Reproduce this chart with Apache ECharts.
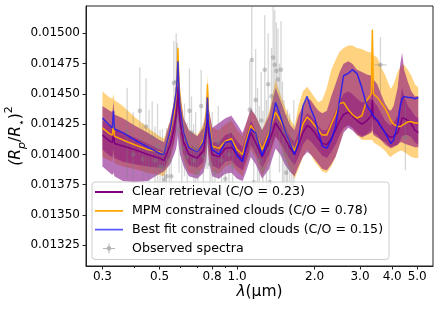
<!DOCTYPE html>
<html><head><meta charset="utf-8">
<script src="https://cdn.jsdelivr.net/npm/echarts@6/dist/echarts.min.js"></script>
<style>html,body{margin:0;padding:0;background:#fff}#c{width:440px;height:312px}</style>
</head><body><div id="c"></div>
<script>
// wavelength grid (micron) shared by the model curves
const wl = [0.30,0.32,0.328,0.331,0.334,0.36,0.40,0.45,0.50,0.52,
 0.55,0.57,0.58,0.585,0.589,0.593,0.60,0.62,0.65,0.70,
 0.74,0.76,0.767,0.775,0.80,0.85,0.90,0.95,1.00,1.05,
 1.08,1.13,1.18,1.25,1.33,1.41,1.47,1.53,1.60,1.67,
 1.73,1.80,1.87,1.93,2.00,2.07,2.14,2.23,2.32,2.41,
 2.50,2.59,2.70,2.80,2.92,3.05,3.19,3.32,3.35,3.38,
 3.50,3.62,3.75,3.88,3.95,4.05,4.20,4.30,4.37,4.45,
 4.60,4.75,4.90,5.05];

const blueLine = [0.01430,0.01424,0.01422,0.01436,0.01421,0.01418,0.01412,0.01406,0.01401,0.01400,
 0.01420,0.01440,0.01452,0.01462,0.01477,0.01460,0.01440,0.01418,0.01406,0.01402,
 0.01410,0.01425,0.01447,0.01425,0.01404,0.01400,0.01410,0.01411,0.01399,0.01394,
 0.01407,0.01421,0.01418,0.01399,0.01415,0.01443,0.01432,0.01420,0.01410,0.01400,
 0.01410,0.01440,0.01448,0.01438,0.01430,0.01418,0.01407,0.01405,0.01412,0.01423,
 0.01445,0.01465,0.01467,0.01470,0.01467,0.01455,0.01440,0.01435,0.01433,0.01432,
 0.01428,0.01423,0.01418,0.01412,0.01409,0.01412,0.01425,0.01440,0.01446,0.01448,
 0.01447,0.01447,0.01446,0.01447];

const orangeLine = [0.01422,0.01417,0.01416,0.01428,0.01415,0.01412,0.01408,0.01404,0.01402,0.01400,
 0.01418,0.01435,0.01450,0.01465,0.01488,0.01466,0.01445,0.01418,0.01407,0.01402,
 0.01412,0.01430,0.01458,0.01430,0.01407,0.01405,0.01411,0.01413,0.01404,0.01400,
 0.01410,0.01424,0.01418,0.01404,0.01418,0.01435,0.01428,0.01420,0.01410,0.01403,
 0.01412,0.01425,0.01431,0.01428,0.01424,0.01420,0.01416,0.01416,0.01425,0.01433,
 0.01442,0.01443,0.01437,0.01433,0.01430,0.01432,0.01445,0.01450,0.01503,0.01450,
 0.01447,0.01443,0.01438,0.01432,0.01428,0.01425,0.01423,0.01423,0.01424,0.01425,
 0.01427,0.01427,0.01426,0.01426];

const purpleLine = [0.01416,0.01411,0.01410,0.01422,0.01409,0.01407,0.01404,0.01400,0.01397,0.01395,
 0.01408,0.01422,0.01432,0.01442,0.01456,0.01440,0.01428,0.01410,0.01400,0.01397,
 0.01403,0.01418,0.01440,0.01418,0.01400,0.01398,0.01405,0.01406,0.01400,0.01396,
 0.01404,0.01418,0.01410,0.01398,0.01410,0.01426,0.01420,0.01414,0.01406,0.01400,
 0.01408,0.01418,0.01424,0.01422,0.01418,0.01413,0.01409,0.01408,0.01413,0.01420,
 0.01428,0.01433,0.01435,0.01432,0.01428,0.01425,0.01428,0.01432,0.01445,0.01430,
 0.01428,0.01423,0.01418,0.01415,0.01414,0.01415,0.01418,0.01424,0.01430,0.01430,
 0.01428,0.01425,0.01420,0.01418];

const orangeHi = [0.01452,0.01447,0.01446,0.01450,0.01445,0.01440,0.01431,0.01422,0.01415,0.01413,
 0.01428,0.01445,0.01460,0.01477,0.01494,0.01477,0.01455,0.01430,0.01420,0.01416,
 0.01425,0.01442,0.01466,0.01440,0.01422,0.01420,0.01425,0.01428,0.01420,0.01415,
 0.01424,0.01437,0.01432,0.01420,0.01435,0.01462,0.01450,0.01440,0.01430,0.01423,
 0.01440,0.01452,0.01456,0.01452,0.01447,0.01443,0.01445,0.01455,0.01470,0.01478,
 0.01485,0.01488,0.01490,0.01490,0.01488,0.01487,0.01485,0.01484,0.01503,0.01482,
 0.01480,0.01472,0.01466,0.01458,0.01454,0.01458,0.01468,0.01472,0.01474,0.01474,
 0.01470,0.01465,0.01458,0.01455];

const orangeLo = [0.01398,0.01395,0.01394,0.01400,0.01393,0.01390,0.01388,0.01385,0.01383,0.01382,
 0.01395,0.01410,0.01420,0.01428,0.01440,0.01428,0.01412,0.01395,0.01385,0.01383,
 0.01390,0.01402,0.01420,0.01400,0.01386,0.01384,0.01390,0.01392,0.01386,0.01382,
 0.01390,0.01404,0.01398,0.01382,0.01395,0.01415,0.01408,0.01398,0.01388,0.01380,
 0.01388,0.01398,0.01404,0.01400,0.01394,0.01390,0.01386,0.01385,0.01390,0.01398,
 0.01408,0.01420,0.01425,0.01422,0.01416,0.01412,0.01412,0.01412,0.01412,0.01410,
 0.01408,0.01406,0.01403,0.01399,0.01398,0.01400,0.01402,0.01403,0.01403,0.01402,
 0.01400,0.01398,0.01397,0.01397];

const purpleHi2 = [0.01440,0.01436,0.01435,0.01444,0.01433,0.01430,0.01424,0.01418,0.01412,0.01410,
 0.01428,0.01445,0.01455,0.01462,0.01470,0.01462,0.01450,0.01430,0.01420,0.01415,
 0.01422,0.01438,0.01460,0.01438,0.01422,0.01426,0.01430,0.01432,0.01425,0.01418,
 0.01425,0.01438,0.01432,0.01420,0.01432,0.01455,0.01445,0.01435,0.01425,0.01420,
 0.01432,0.01440,0.01446,0.01445,0.01440,0.01436,0.01434,0.01436,0.01448,0.01458,
 0.01468,0.01475,0.01477,0.01475,0.01470,0.01468,0.01466,0.01465,0.01480,0.01462,
 0.01458,0.01450,0.01442,0.01437,0.01436,0.01440,0.01455,0.01475,0.01484,0.01470,
 0.01460,0.01452,0.01448,0.01448];

const purpleLo2 = [0.01390,0.01385,0.01383,0.01385,0.01382,0.01378,0.01377,0.01378,0.01384,0.01386,
 0.01392,0.01400,0.01405,0.01410,0.01415,0.01408,0.01400,0.01390,0.01382,0.01380,
 0.01385,0.01395,0.01410,0.01395,0.01382,0.01380,0.01384,0.01385,0.01380,0.01378,
 0.01385,0.01398,0.01392,0.01380,0.01388,0.01405,0.01400,0.01392,0.01386,0.01382,
 0.01390,0.01398,0.01402,0.01400,0.01396,0.01392,0.01388,0.01387,0.01392,0.01398,
 0.01408,0.01418,0.01422,0.01420,0.01416,0.01414,0.01416,0.01418,0.01420,0.01416,
 0.01414,0.01412,0.01410,0.01407,0.01406,0.01407,0.01408,0.01410,0.01410,0.01409,
 0.01408,0.01407,0.01406,0.01406];

const purpleHi1 = [0.01428,0.01423,0.01422,0.01433,0.01421,0.01418,0.01414,0.01409,0.01404,0.01402,
 0.01417,0.01432,0.01442,0.01452,0.01463,0.01450,0.01438,0.01420,0.01408,0.01405,
 0.01412,0.01428,0.01450,0.01427,0.01410,0.01410,0.01416,0.01418,0.01411,0.01406,
 0.01414,0.01428,0.01420,0.01408,0.01420,0.01438,0.01432,0.01424,0.01415,0.01410,
 0.01418,0.01428,0.01434,0.01432,0.01428,0.01423,0.01420,0.01420,0.01428,0.01436,
 0.01444,0.01450,0.01452,0.01450,0.01446,0.01443,0.01444,0.01446,0.01458,0.01444,
 0.01440,0.01434,0.01428,0.01425,0.01424,0.01426,0.01432,0.01445,0.01455,0.01448,
 0.01440,0.01436,0.01432,0.01430];

const purpleLo1 = [0.01404,0.01399,0.01398,0.01405,0.01397,0.01394,0.01392,0.01390,0.01389,0.01388,
 0.01399,0.01411,0.01420,0.01428,0.01436,0.01426,0.01416,0.01400,0.01391,0.01389,
 0.01394,0.01407,0.01426,0.01406,0.01391,0.01388,0.01394,0.01395,0.01390,0.01387,
 0.01394,0.01408,0.01401,0.01389,0.01400,0.01415,0.01410,0.01403,0.01396,0.01391,
 0.01398,0.01408,0.01413,0.01411,0.01407,0.01403,0.01399,0.01397,0.01402,0.01408,
 0.01416,0.01422,0.01424,0.01422,0.01418,0.01415,0.01417,0.01420,0.01430,0.01418,
 0.01416,0.01412,0.01408,0.01406,0.01405,0.01406,0.01408,0.01412,0.01415,0.01416,
 0.01416,0.01414,0.01410,0.01408];

// observed spectra (optical + near-IR)
const obsWl = [0.374,0.395,0.419,0.430,0.443,0.455,0.468,0.480,0.491,0.502,
 0.513,0.522,0.532,0.545,0.555,0.568,0.580,0.584,0.595,0.610,
 0.625,0.640,0.653,0.665,0.678,0.690,0.705,0.725,0.740,0.758,
 0.770,0.785,0.800,0.820,0.845,0.870,0.900,0.930,0.960,
 1.12,1.14,1.16,1.18,1.20,1.22,1.24,1.26,1.28,1.30,
 1.32,1.34,1.36,1.38,1.40,1.42,1.44,1.46,1.48,1.50,
 1.52,1.55,1.57,1.60,1.63,1.66];
const obsVal = [0.01418,0.01400,0.01436,0.01396,0.01423,0.01405,0.01414,0.01395,0.01407,0.01390,
 0.01389,0.01379,0.01382,0.01395,0.01382,0.01459,0.01460,0.01454,0.01420,0.01405,
 0.01412,0.01398,0.01436,0.01418,0.01395,0.01405,0.01385,0.01440,0.01398,0.01418,
 0.01420,0.01392,0.01405,0.01385,0.01410,0.01395,0.01380,0.01400,0.01390,
 0.01437,0.01478,0.01377,0.01445,0.01410,0.01395,0.01428,0.01388,0.01470,0.01405,
 0.01458,0.01377,0.01448,0.01480,0.01474,0.01469,0.01462,0.01430,0.01470,0.01418,
 0.01400,0.01385,0.01395,0.01389,0.01375,0.01405];
const obsErr = [0.00037,0.00035,0.00036,0.00030,0.00040,0.00032,0.00030,0.00028,0.00035,0.00030,
 0.00032,0.00030,0.00040,0.00030,0.00035,0.00035,0.00040,0.00038,0.00035,0.00030,
 0.00030,0.00028,0.00035,0.00030,0.00030,0.00030,0.00030,0.00030,0.00028,0.00030,
 0.00032,0.00030,0.00030,0.00028,0.00030,0.00030,0.00032,0.00030,0.00030,
 0.00040,0.00045,0.00040,0.00042,0.00045,0.00045,0.00040,0.00048,0.00045,0.00040,
 0.00042,0.00045,0.00040,0.00048,0.00045,0.00040,0.00042,0.00045,0.00040,0.00042,
 0.00045,0.00048,0.00042,0.00045,0.00045,0.00040];
// Spitzer photometric points with band widths
const spzWl = [3.6, 4.5];
const spzVal = [0.01474, 0.01414];
const spzErr = [0.00023, 0.00027];
const spzLo = [3.41, 4.31];
const spzHi = [3.81, 4.76];

const xMajor = [0.3, 0.5, 0.8, 1.0, 2.0, 3.0, 4.0, 5.0];
const xMinor = [0.4, 0.6, 0.7, 0.9];
const yTicks = [0.01325, 0.0135, 0.01375, 0.014, 0.01425, 0.0145, 0.01475, 0.015];

const names = ['Clear retrieval (C/O = 0.23)', 'MPM constrained clouds (C/O = 0.78)', 'Best fit constrained clouds (C/O = 0.15)', 'Observed spectra'];
const colors = ['#800080', '#FFA500', 'rgba(20,20,255,0.8)'];

const FONT = 'DejaVu Sans';
const LINE_ICON = 'path://M0,0L0.01,0M28,14L27.99,14M0,6.1L28,6.1L28,7.9L0,7.9Z';

function band(name, lo, hi, color, z) {
  return {
    type: 'custom', name: name, z: z, silent: true, clip: true,
    data: wl.map((w, i) => [w, lo[i], hi[i]]),
    encode: { x: 0, y: [1, 2] },
    renderItem: function (params, api) {
      if (params.dataIndex !== 0) return null;
      const pts = [];
      for (let i = 0; i < wl.length; i++) pts.push(api.coord([wl[i], hi[i]]));
      for (let i = wl.length - 1; i >= 0; i--) pts.push(api.coord([wl[i], lo[i]]));
      return { type: 'polygon', shape: { points: pts }, style: { fill: color } };
    }
  };
}
function line(name, vals, color) {
  return {
    type: 'line', name: name, z: 5, symbol: 'none', silent: true,
    data: wl.map((w, i) => [w, vals[i]]),
    lineStyle: { color: color, width: 1.5 }, itemStyle: { color: color }
  };
}

const obsData = obsWl.map((w, i) => [w, obsVal[i], obsErr[i], w, w])
  .concat(spzWl.map((w, i) => [w, spzVal[i], spzErr[i], spzLo[i], spzHi[i]]));

const chart = echarts.init(document.getElementById('c'));
chart.setOption({
  animation: false,
  backgroundColor: '#fff',
  grid: { left: 86, right: 7, top: 6, bottom: 46, outerBoundsMode: 'none', containLabel: false, show: true, borderColor: '#222', borderWidth: 1, backgroundColor: 'transparent' },
  xAxis: [{
    type: 'log', logBase: 10, min: 0.259, max: 5.76, position: 'bottom',
    name: '{i|λ}{n|(μm)}', nameLocation: 'middle', nameGap: 18, nameMoveOverlap: false,
    nameTextStyle: { rich: { i: { fontFamily: FONT, fontSize: 15.5, fontStyle: 'italic', color: '#000' }, n: { fontFamily: FONT, fontSize: 15.5, color: '#000' } } },
    axisLine: { show: true, onZero: false, lineStyle: { color: '#222', width: 1 } },
    axisTick: { show: true, customValues: xMajor, length: 3.5, lineStyle: { color: '#222' } },
    axisLabel: { customValues: xMajor, formatter: v => Number(v).toFixed(1), fontFamily: FONT, fontSize: 12, color: '#000', margin: 5 },
    splitLine: { show: false }, minorTick: { show: false }
  }, {
    type: 'log', logBase: 10, min: 0.259, max: 5.76, position: 'bottom', gridIndex: 0,
    axisLine: { show: false },
    axisTick: { show: true, customValues: xMinor, length: 2, lineStyle: { color: '#222' } },
    axisLabel: { show: false }, splitLine: { show: false }
  }],
  yAxis: {
    type: 'value', min: 0.013079, max: 0.015226,
    name: '{r|(R}{s|p}{n|/}{r|R}{t|⋆}{n|)}{u|2}', nameLocation: 'middle', nameRotate: 90, nameGap: 58, nameMoveOverlap: false,
    nameTextStyle: { rich: {
      n: { fontFamily: FONT, fontSize: 15.5, color: '#000', lineHeight: 24 },
      r: { fontFamily: FONT, fontSize: 15.5, fontStyle: 'italic', color: '#000', lineHeight: 24 },
      s: { fontFamily: FONT, fontSize: 11, fontStyle: 'italic', color: '#000', lineHeight: 24, verticalAlign: 'bottom' },
      t: { fontFamily: FONT, fontSize: 11, color: '#000', lineHeight: 24, verticalAlign: 'bottom' },
      u: { fontFamily: FONT, fontSize: 11, color: '#000', lineHeight: 24, verticalAlign: 'top' }
    } },
    axisLine: { show: true, onZero: false, lineStyle: { color: '#222', width: 1 } },
    axisTick: { show: true, customValues: yTicks, length: 3.5, lineStyle: { color: '#222' } },
    axisLabel: { customValues: yTicks, formatter: v => Number(v).toFixed(5), fontFamily: FONT, fontSize: 12, color: '#000', margin: 6 },
    splitLine: { show: false }
  },
  legend: {
    left: 92, top: 182, orient: 'vertical', selectedMode: false,
    itemWidth: 28, itemHeight: 14, itemGap: 4.8,
    padding: [3, 6, 4, 3], backgroundColor: 'rgba(255,255,255,0.8)',
    borderColor: '#cccccc', borderWidth: 1, borderRadius: 3,
    textStyle: { fontFamily: FONT, fontSize: 12.6, color: '#000', padding: [0, 0, 0, 4] },
    data: [
      { name: names[0], icon: LINE_ICON, itemStyle: { color: colors[0] } },
      { name: names[1], icon: LINE_ICON, itemStyle: { color: colors[1] } },
      { name: names[2], icon: LINE_ICON, itemStyle: { color: 'rgba(60,60,255,0.85)' } },
      { name: names[3], icon: 'path://M0,0L0.01,0M28,14L27.99,14M8,6.5L20,6.5L20,7.5L8,7.5ZM13.5,2L14.5,2L14.5,12L13.5,12ZM16.3,7A2.3,2.3,0,1,1,11.7,7A2.3,2.3,0,1,1,16.3,7Z', itemStyle: { color: '#b5b5b5' } }
    ]
  },
  series: [
    band('orangeBand', orangeLo, orangeHi, 'rgba(255,165,0,0.5)', 1),
    band('purpleBand2', purpleLo2, purpleHi2, 'rgba(128,0,128,0.55)', 2),
    band('purpleBand1', purpleLo1, purpleHi1, 'rgba(128,0,128,0.45)', 2),
    {
      type: 'custom', name: names[3], z: 3, clip: true, silent: true,
      data: obsData, encode: { x: 0, y: 1 }, itemStyle: { color: '#b5b5b5' },
      renderItem: function (params, api) {
        const x = api.value(0), v = api.value(1), e = api.value(2), xl = api.value(3), xh = api.value(4);
        const c = api.coord([x, v]), t = api.coord([x, v + e]), b = api.coord([x, v - e]);
        const st = { stroke: 'rgba(128,128,128,0.32)', lineWidth: 1.3 };
        const ch = [{ type: 'line', shape: { x1: c[0], y1: t[1], x2: c[0], y2: b[1] }, style: st }];
        if (xh > xl) {
          const l = api.coord([xl, v]), r = api.coord([xh, v]);
          ch.push({ type: 'line', shape: { x1: l[0], y1: c[1], x2: r[0], y2: c[1] }, style: st });
        }
        ch.push({ type: 'circle', shape: { cx: c[0], cy: c[1], r: 2.3 }, style: { fill: 'rgba(128,128,128,0.4)' } });
        return { type: 'group', children: ch };
      }
    },
    line(names[0], purpleLine, colors[0]),
    line(names[1], orangeLine, colors[1]),
    line(names[2], blueLine, colors[2])
  ]
});
</script></body></html>
